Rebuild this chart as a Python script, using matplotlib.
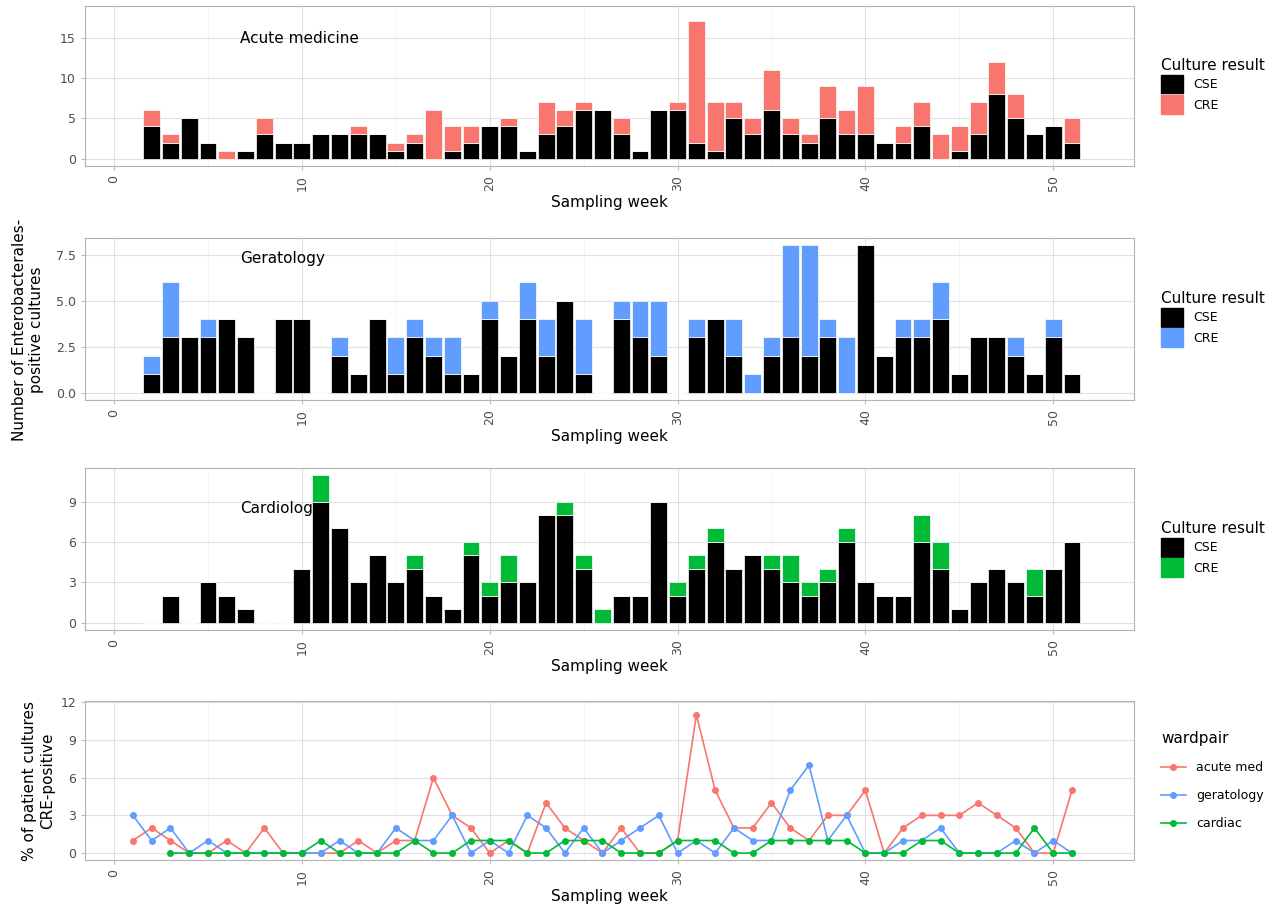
import matplotlib
matplotlib.use("Agg")
import matplotlib.pyplot as plt
import numpy as np
from matplotlib.patches import Patch

weeks_bar = list(range(2, 52))
acute_cse = [4,2,5,2,0,1,3,2,2,3,3,3,3,1,2,0,1,2,4,4,1,3,4,6,6,3,1,6,6,2,1,5,3,6,3,2,5,3,3,2,2,4,0,1,3,8,5,3,4,2]
acute_tot = [6,3,5,2,1,1,5,2,2,3,3,4,3,2,3,6,4,4,4,5,1,7,6,7,6,5,1,6,7,17,7,7,5,11,5,3,9,6,9,2,4,7,3,4,7,12,8,3,4,5]
ger_cse = [1,3,3,3,4,3,0,4,4,0,2,1,4,1,3,2,1,1,4,2,4,2,5,1,0,4,3,2,0,3,4,2,0,2,3,2,3,0,8,2,3,3,4,1,3,3,2,1,3,1]
ger_tot = [2,6,3,4,4,3,0,4,4,0,3,1,4,3,4,3,3,1,5,2,6,4,5,4,0,5,5,5,0,4,4,4,1,3,8,8,4,3,8,2,4,4,6,1,3,3,3,1,4,1]
card_cse = [0,2,0,3,2,1,0,0,4,9,7,3,5,3,4,2,1,5,2,3,3,8,8,4,0,2,2,9,2,4,6,4,5,4,3,2,3,6,3,2,2,6,4,1,3,4,3,2,4,6]
card_tot = [0,2,0,3,2,1,0,0,4,11,7,3,5,3,5,2,1,6,3,5,3,8,9,5,1,2,2,9,3,5,7,4,5,5,5,3,4,7,3,2,2,8,6,1,3,4,3,4,4,6]

weeks_line = list(range(1, 52))
pct_acute = [1,2,1,0,0,1,0,2,0,0,0,0,1,0,1,1,6,3,2,0,1,0,4,2,1,0,2,0,0,1,11,5,2,2,4,2,1,3,3,5,0,2,3,3,3,4,3,2,0,0,5]
pct_ger = [3,1,2,0,1,0,0,0,0,0,0,1,0,0,2,1,1,3,0,1,0,3,2,0,2,0,1,2,3,0,1,0,2,1,1,5,7,1,3,0,0,1,1,2,0,0,0,1,0,1,0]
weeks_card = list(range(3, 52))
pct_card = [0,0,0,0,0,0,0,0,1,0,0,0,0,1,0,0,1,1,1,0,0,1,1,1,0,0,0,1,1,1,0,0,1,1,1,1,1,0,0,0,1,1,0,0,0,0,2,0,0]

RED = "#F8766D"; BLUE = "#619CFF"; GREEN = "#00BA38"

fig = plt.figure(figsize=(12.8, 9.22), dpi=100)
L, R = 85/1280, 1134/1280
boxes = [(6, 166), (238, 400), (468, 630), (701, 860)]
axes = []
for (t, b) in boxes:
    ax = fig.add_axes([L, 1 - b/922, R - L, (b - t)/922])
    axes.append(ax)

def style(ax, yt, ytl):
    ax.set_xlim(-1.55, 54.3)
    ax.set_xticks([0, 10, 20, 30, 40, 50])
    ax.set_xticks([5, 15, 25, 35, 45], minor=True)
    ax.set_yticks(yt)
    ax.set_yticklabels(ytl)
    ax.tick_params(axis='x', labelrotation=90, colors='#4d4d4d', labelsize=9, length=3, color='#bbbbbb')
    ax.tick_params(axis='y', colors='#4d4d4d', labelsize=9, length=3, color='#bbbbbb')
    ax.tick_params(which='minor', length=0)
    ax.grid(True, which='major', color='#e0e0e0', lw=0.8)
    ax.grid(True, which='minor', color='#f0f0f0', lw=0.5)
    ax.set_axisbelow(True)
    for s in ax.spines.values():
        s.set_color('#b3b3b3')
    ax.set_xlabel("Sampling week", fontsize=11, labelpad=3)

panels = [(acute_cse, acute_tot, RED, "Acute medicine", 14.9, [0,5,10,15], ['0','5','10','15'], (-0.9, 18.9)),
          (ger_cse, ger_tot, BLUE, "Geratology", 7.3, [0,2.5,5,7.5], ['0.0','2.5','5.0','7.5'], (-0.4, 8.4)),
          (card_cse, card_tot, GREEN, "Cardiology", 8.5, [0,3,6,9], ['0','3','6','9'], (-0.55, 11.5))]
for ax, (cse, tot, col, name, ty, yt, ytl, yl) in zip(axes[:3], panels):
    cse = np.array(cse); tot = np.array(tot)
    ax.bar(weeks_bar, cse, width=0.9, color='black', edgecolor='white', lw=0.5)
    ax.bar(weeks_bar, tot - cse, bottom=cse, width=0.9, color=col, edgecolor='white', lw=0.5)
    ax.set_ylim(*yl)
    style(ax, yt, ytl)
    ax.text(6.7, ty, name, fontsize=11, va='center')
    leg = ax.legend(handles=[Patch(color='black', label='CSE'), Patch(color=col, label='CRE')],
                    title="Culture result", loc='center left', bbox_to_anchor=(1.015, 0.5),
                    frameon=False, fontsize=9, title_fontsize=11, handlelength=1.8, handleheight=1.9,
                    labelspacing=0.15)
    leg._legend_box.align = 'left'

ax = axes[3]
ax.plot(weeks_line, pct_acute, '-o', color=RED, ms=4, lw=1.2, label='acute med')
ax.plot(weeks_line, pct_ger, '-o', color=BLUE, ms=4, lw=1.2, label='geratology')
ax.plot(weeks_card, pct_card, '-o', color=GREEN, ms=4, lw=1.2, label='cardiac')
ax.set_ylim(-0.55, 12.1)
style(ax, [0,3,6,9,12], ['0','3','6','9','12'])
ax.set_ylabel("% of patient cultures\nCRE-positive", fontsize=11)
leg = ax.legend(title="wardpair", loc='center left', bbox_to_anchor=(1.015, 0.5), frameon=False,
                fontsize=9, title_fontsize=11, labelspacing=1.2)
leg._legend_box.align = 'left'

fig.text(0.022, 1 - 330/922, "Number of Enterobacterales-\npositive cultures", rotation=90,
         ha='center', va='center', fontsize=11)

fig.savefig("out.png", dpi=100)
